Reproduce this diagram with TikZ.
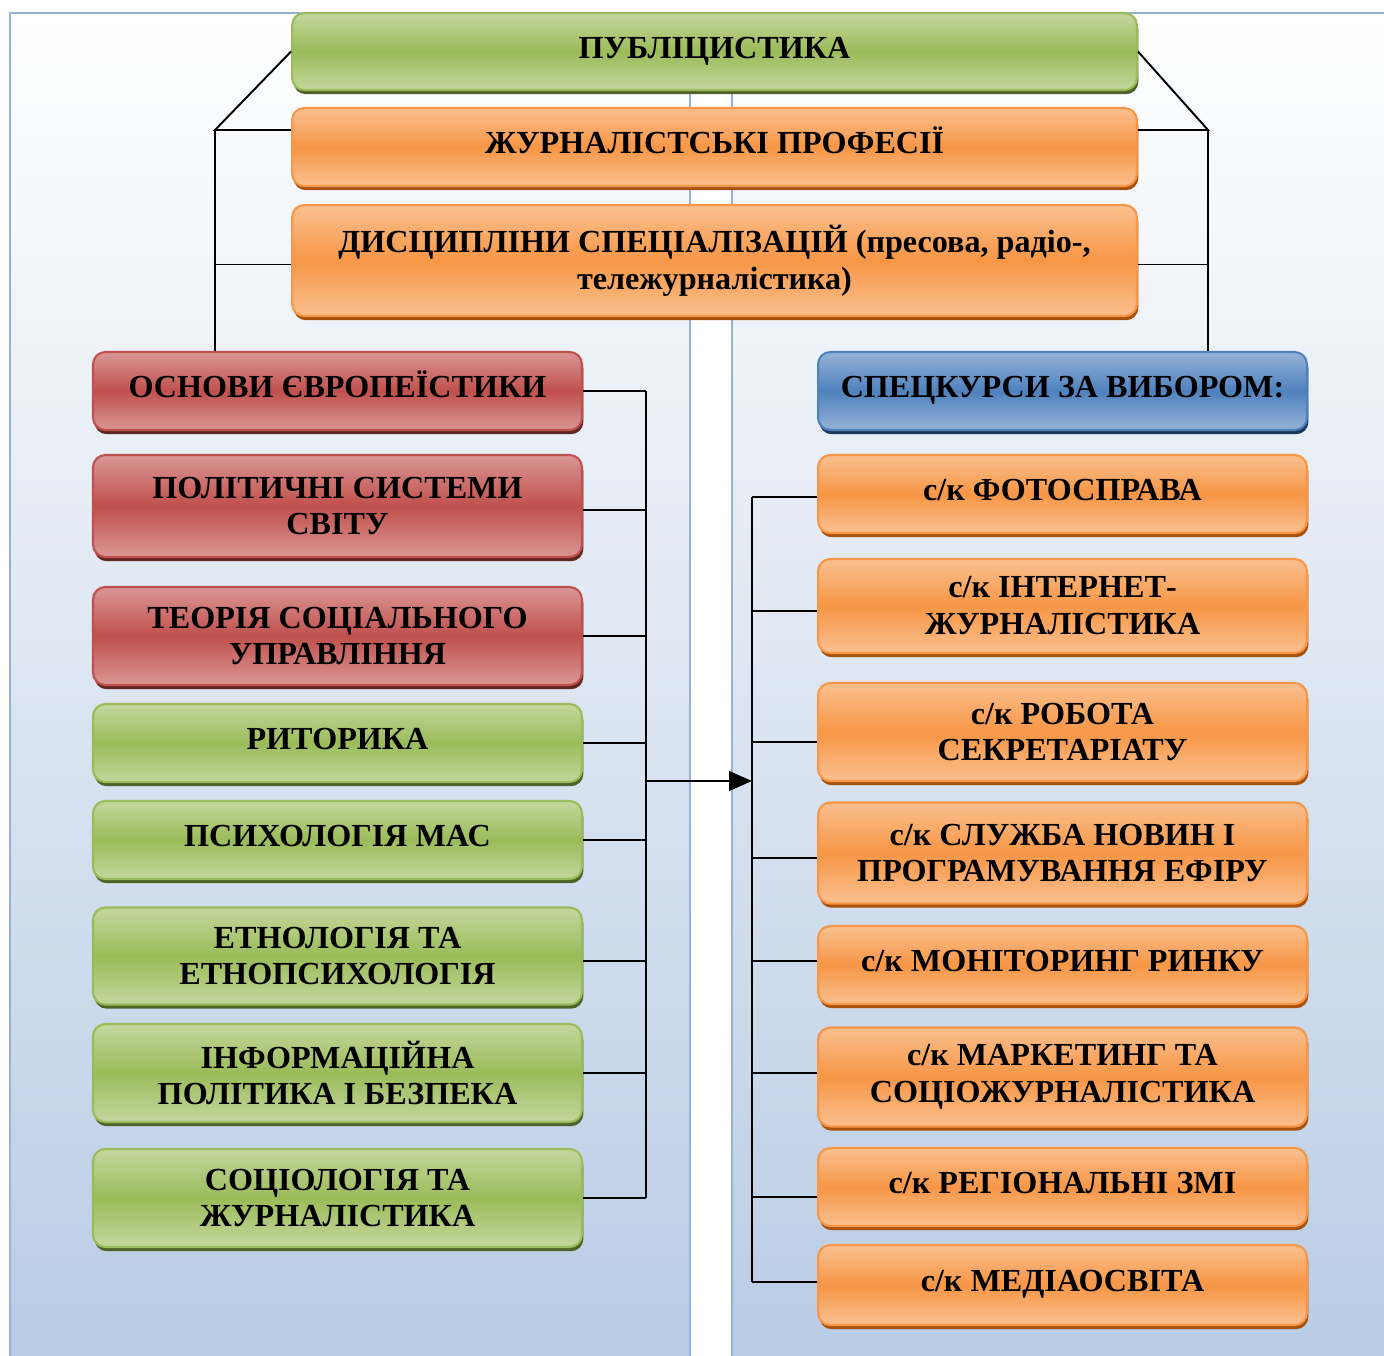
\documentclass[tikz,border=0pt]{standalone}
\usepackage{fontspec}
\setmainfont{Liberation Serif}
\usetikzlibrary{arrows.meta}

\definecolor{grMid}{HTML}{9BBB59}
\definecolor{grLight}{HTML}{C4D79E}
\definecolor{grDark}{HTML}{4F6228}
\definecolor{orMid}{HTML}{F79646}
\definecolor{orLight}{HTML}{FAC08F}
\definecolor{orDark}{HTML}{A9520C}
\definecolor{rdMid}{HTML}{C0504D}
\definecolor{rdLight}{HTML}{DA9694}
\definecolor{rdDark}{HTML}{632523}
\definecolor{blMid}{HTML}{4F81BD}
\definecolor{blLight}{HTML}{95B3D7}
\definecolor{blDark}{HTML}{17375E}
\definecolor{panelLine}{HTML}{95B3D7}
\definecolor{panelBottom}{HTML}{B9CCE4}

\tikzset{
  card/.style={rounded corners=7pt, line width=1.2pt, align=center, inner sep=2pt,
    font=\bfseries\fontsize{18.3}{21}\selectfont},
  colcard/.style n args={3}{card, draw=#2, top color=#1, bottom color=#1, middle color=#2,
    preaction={fill=#3, transform canvas={xshift=0.8pt, yshift=-2.4pt}}},
  greencard/.style={colcard={grLight}{grMid}{grDark}},
  orangecard/.style={colcard={orLight}{orMid}{orDark}},
  redcard/.style={colcard={rdLight}{rdMid}{rdDark}},
  bluecard/.style={colcard={blLight}{blMid}{blDark}},
  oneline/.style={text height=12pt, text depth=4.6pt},
  wide/.style={minimum width=16.9cm},
  side/.style={minimum width=9.78cm},
  link/.style={line width=1.1pt},
  panel/.style={draw=panelLine, line width=1.6pt, top color=white, bottom color=panelBottom},
}

\begin{document}
\begin{tikzpicture}[x=0.02cm, y=-0.02cm]
  \clip (0,0) rectangle (1384,1356);

  % Background panels
  \draw[panel] (10,13) rectangle (690,1370);
  \draw[panel] (732,13) rectangle (1400,1370);

  % Junction points and buses
  \coordinate (lj) at (215,130);
  \coordinate (rj) at (1208,130);
  \coordinate (lbus) at (646,781);
  \coordinate (rbus) at (752,781);

  % Top boxes
  \node[greencard, oneline, wide, minimum height=1.54cm] (pub) at (714.5,51.5) {ПУБЛІЦИСТИКА};
  \node[orangecard, oneline, wide, minimum height=1.56cm] (prof) at (714.5,147) {ЖУРНАЛІСТСЬКІ ПРОФЕСІЇ};
  \node[orangecard, wide, minimum height=2.22cm] (disc) at (714.5,260.5)
    {ДИСЦИПЛІНИ СПЕЦІАЛІЗАЦІЙ (пресова, радіо-,\\тележурналістика)};

  % Left column
  \node[redcard, oneline, side, minimum height=1.56cm] (euro) at (337.5,391) {ОСНОВИ ЄВРОПЕЇСТИКИ};
  \node[redcard, side, minimum height=2.04cm] (polit) at (337.5,506) {ПОЛІТИЧНІ СИСТЕМИ\\СВІТУ};
  \node[redcard, side, minimum height=1.96cm] (theory) at (337.5,636) {ТЕОРІЯ СОЦІАЛЬНОГО\\УПРАВЛІННЯ};
  \node[greencard, oneline, side, minimum height=1.56cm] (rhet) at (337.5,743) {РИТОРИКА};
  \node[greencard, oneline, side, minimum height=1.56cm] (psych) at (337.5,840) {ПСИХОЛОГІЯ МАС};
  \node[greencard, side, minimum height=1.94cm] (ethno) at (337.5,956) {ЕТНОЛОГІЯ ТА\\ЕТНОПСИХОЛОГІЯ};
  \node[greencard, side, minimum height=1.96cm] (info) at (337.5,1073) {ІНФОРМАЦІЙНА\\ПОЛІТИКА І БЕЗПЕКА};
  \node[greencard, side, minimum height=1.96cm] (socio) at (337.5,1198) {СОЦІОЛОГІЯ ТА\\ЖУРНАЛІСТИКА};

  % Right column
  \node[bluecard, oneline, side, minimum height=1.56cm] (spec) at (1062.5,391) {СПЕЦКУРСИ ЗА ВИБОРОМ:};
  \node[orangecard, oneline, side, minimum height=1.56cm] (photo) at (1062.5,494) {с/к ФОТОСПРАВА};
  \node[orangecard, side, minimum height=1.88cm] (inet) at (1062.5,606) {с/к ІНТЕРНЕТ-\\ЖУРНАЛІСТИКА};
  \node[orangecard, side, minimum height=1.96cm] (secr) at (1062.5,732) {с/к РОБОТА\\СЕКРЕТАРІАТУ};
  \node[orangecard, side, minimum height=2.02cm] (news) at (1062.5,853) {с/к СЛУЖБА НОВИН І\\ПРОГРАМУВАННЯ ЕФІРУ};
  \node[orangecard, oneline, side, minimum height=1.56cm] (monit) at (1062.5,965) {с/к МОНІТОРИНГ РИНКУ};
  \node[orangecard, side, minimum height=1.98cm] (market) at (1062.5,1077) {с/к МАРКЕТИНГ ТА\\СОЦІОЖУРНАЛІСТИКА};
  \node[orangecard, oneline, side, minimum height=1.56cm] (region) at (1062.5,1187) {с/к РЕГІОНАЛЬНІ ЗМІ};
  \node[orangecard, oneline, side, minimum height=1.6cm] (media) at (1062.5,1285) {с/к МЕДІАОСВІТА};

  % Connectors from the top
  \draw[link] (pub.west) -- (lj) -- (lj -| prof.west);
  \draw[link] (lj) -- (lj |- euro.north);
  \draw[link] ([yshift=-0.08cm]lj |- disc.west) -- ([yshift=-0.08cm]disc.west);
  \draw[link] (pub.east) -- (rj) -- (rj -| prof.east);
  \draw[link] (rj) -- (rj |- spec.north);
  \draw[link] ([yshift=-0.08cm]rj |- disc.east) -- ([yshift=-0.08cm]disc.east);

  % Left bus
  \foreach \n/\dy in {euro/0,polit/-0.08,theory/0,rhet/0,psych/0,ethno/-0.1,info/0,socio/0}
    \draw[link] ([yshift=\dy cm]\n.east) -- ([yshift=\dy cm]\n.east -| lbus);
  \draw[link] (euro.east -| lbus) -- (socio.east -| lbus);

  % Right bus
  \foreach \n/\dy in {photo/-0.06,inet/-0.1,secr/-0.2,news/-0.1,monit/0.08,market/0.08,region/-0.2,media/0.06}
    \draw[link] ([yshift=\dy cm]\n.west) -- ([yshift=\dy cm]\n.west -| rbus);
  \draw[link] ([yshift=-0.06cm]photo.west -| rbus) -- ([yshift=0.06cm]media.west -| rbus);

  % Arrow between buses
  \draw[line width=1.6pt, -{Triangle[length=13pt,width=11pt]}] (lbus) -- (rbus);
\end{tikzpicture}
\end{document}
